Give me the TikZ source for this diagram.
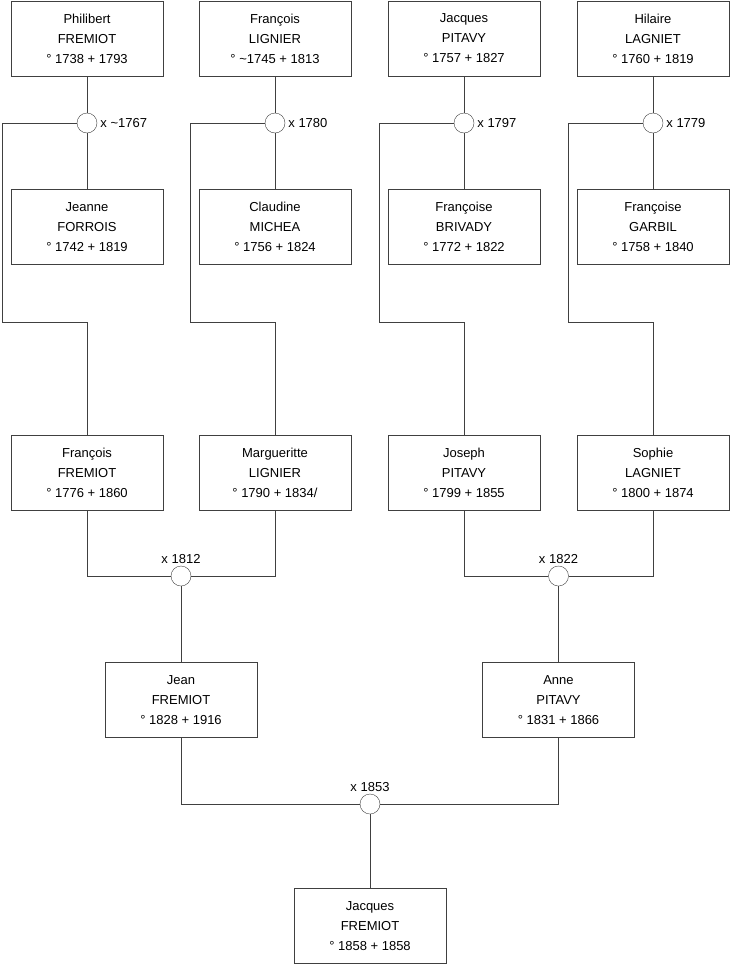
\documentclass[tikz,border=0pt]{standalone}
\usepackage{fontspec}
\setmainfont{Liberation Sans}
\usetikzlibrary{positioning}

\begin{document}
\begin{tikzpicture}[x=1pt, y=-1pt, font=\fontsize{13}{20}\selectfont,
  person/.style={draw=black!75, fill=white, minimum width=152pt, minimum height=75pt, align=center, inner sep=0pt},
  union/.style={circle, draw=black!75, fill=white, minimum size=20pt, inner sep=0pt},
  wed/.style={inner sep=1pt},
  link/.style={draw=black!75, line width=0.8pt}]
  \useasboundingbox (0,0) rectangle (740,975);
  % ============ great-grandparents ============
  \node[person] (philibert) at (87,38.5) {Philibert\\FREMIOT\\° 1738 + 1793};
  \node[person] (francoisL) at (275,38.5) {François\\LIGNIER\\° \textasciitilde1745 + 1813};
  \node[person] (jacquesP) at (464,38.5) {Jacques\\PITAVY\\° 1757 + 1827};
  \node[person] (hilaire) at (653,38.5) {Hilaire\\LAGNIET\\° 1760 + 1819};
  \node[union] (m1) at (87,123) {};
  \node[union] (m2) at (275,123) {};
  \node[union] (m3) at (464,123) {};
  \node[union] (m4) at (653,123) {};
  \node[wed, right=2pt of m1] (y1) {x \textasciitilde1767};
  \node[wed, right=2pt of m2] (y2) {x 1780};
  \node[wed, right=2pt of m3] (y3) {x 1797};
  \node[wed, right=2pt of m4] (y4) {x 1779};
  \node[person] (jeanne) at (87,227) {Jeanne\\FORROIS\\° 1742 + 1819};
  \node[person] (claudine) at (275,227) {Claudine\\MICHEA\\° 1756 + 1824};
  \node[person] (francoiseB) at (464,227) {Françoise\\BRIVADY\\° 1772 + 1822};
  \node[person] (francoiseG) at (653,227) {Françoise\\GARBIL\\° 1758 + 1840};
  \draw[link] (philibert) -- (m1) -- (jeanne);
  \draw[link] (francoisL) -- (m2) -- (claudine);
  \draw[link] (jacquesP) -- (m3) -- (francoiseB);
  \draw[link] (hilaire) -- (m4) -- (francoiseG);
  % ============ grandparents ============
  \node[person] (francoisF) at (87,473) {François\\FREMIOT\\° 1776 + 1860};
  \node[person] (marg) at (275,473) {Margueritte\\LIGNIER\\° 1790 + 1834/};
  \node[person] (joseph) at (464,473) {Joseph\\PITAVY\\° 1799 + 1855};
  \node[person] (sophie) at (653,473) {Sophie\\LAGNIET\\° 1800 + 1874};
  \coordinate (k1) at (2,322);
  \coordinate (k2) at (190,322);
  \coordinate (k3) at (379,322);
  \coordinate (k4) at (568,322);
  \draw[link] (m1.west) -| (k1) -| (francoisF.north);
  \draw[link] (m2.west) -| (k2) -| (marg.north);
  \draw[link] (m3.west) -| (k3) -| (joseph.north);
  \draw[link] (m4.west) -| (k4) -| (sophie.north);
  \node[union] (m5) at (181,576) {};
  \node[union] (m6) at (558.5,576) {};
  \node[wed, above=1pt of m5] (y5) {x 1812};
  \node[wed, above=1pt of m6] (y6) {x 1822};
  \draw[link] (francoisF.south) |- (m5.west);
  \draw[link] (marg.south) |- (m5.east);
  \draw[link] (joseph.south) |- (m6.west);
  \draw[link] (sophie.south) |- (m6.east);
  % ============ parents and child ============
  \node[person] (jean) at (181,700) {Jean\\FREMIOT\\° 1828 + 1916};
  \node[person] (anne) at (558.5,700) {Anne\\PITAVY\\° 1831 + 1866};
  \draw[link] (m5) -- (jean);
  \draw[link] (m6) -- (anne);
  \node[union] (m7) at (370,804) {};
  \node[wed, above=1pt of m7] (y7) {x 1853};
  \draw[link] (jean.south) |- (m7.west);
  \draw[link] (anne.south) |- (m7.east);
  \node[person] (jacquesF) at (370,926) {Jacques\\FREMIOT\\° 1858 + 1858};
  \draw[link] (m7) -- (jacquesF);
\end{tikzpicture}
\end{document}
